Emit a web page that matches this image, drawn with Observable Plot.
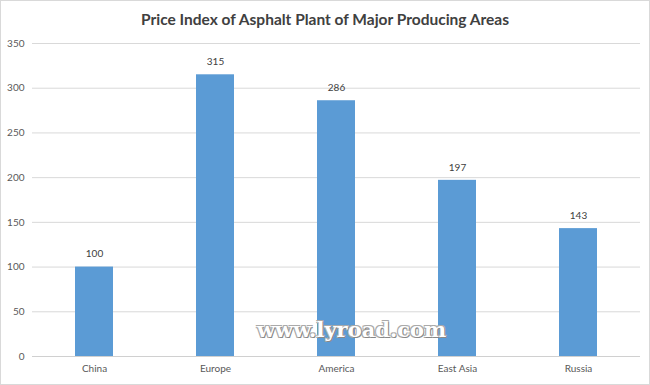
<!DOCTYPE html>
<html>
<head>
<meta charset="utf-8">
<script src="https://cdn.jsdelivr.net/npm/d3@7"></script>
<script src="https://cdn.jsdelivr.net/npm/@observablehq/plot@0.6"></script>
<style>
  html, body { margin: 0; padding: 0; background: #fff; }
  #wrap { position: relative; width: 648px; height: 383px; border: 1px solid #d9d9d9; overflow: hidden; font-family: Lato, "Open Sans", sans-serif; }
  #title { height: 34px; line-height: 36px; text-align: center; font-size: 15.5px; font-weight: bold; color: #404040; }
  #wm { position: absolute; left: 256px; top: 316px; font-family: "DejaVu Serif", serif; font-weight: bold; font-size: 21px; color: #fff; letter-spacing: 0px;
        text-shadow: 1px 1px 0 #888, -1px -1px 0 #aaa, 1px -1px 0 #aaa, -1px 1px 0 #aaa; }
</style>
</head>
<body>
<div id="wrap">
  <div id="title">Price Index of Asphalt Plant of Major Producing Areas</div>
  <div id="chart"></div>
  <div id="wm">www.lyroad.com</div>
</div>
<script>
const regions = ["China", "Europe", "America", "East Asia", "Russia"];
const values = [100, 315, 286, 197, 143];
const yTicks = [0, 50, 100, 150, 200, 250, 300, 350];

const data = regions.map((r, i) => ({region: r, value: values[i]}));

const chart = Plot.plot({
  width: 648,
  height: 348,
  marginTop: 8,
  marginBottom: 27,
  marginLeft: 31,
  marginRight: 9,
  style: {fontFamily: "Lato, 'Open Sans', sans-serif", fontSize: "10px", color: "#595959", background: "#fff"},
  x: {domain: regions, paddingInner: 0.69, paddingOuter: 0.345, label: null, tickSize: 0, tickPadding: 8},
  y: {domain: [0, 350], ticks: yTicks, label: null, tickSize: 0, tickPadding: 8},
  marks: [
    Plot.gridY(yTicks, {stroke: "#d9d9d9", strokeOpacity: 1}),
    Plot.barY(data, {x: "region", y: "value", fill: "#5b9bd5"}),
    Plot.ruleY([0], {stroke: "#d0d0d0"}),
    Plot.text(data, {x: "region", y: "value", text: d => String(d.value), dy: -13, fill: "#404040", fontSize: 10})
  ]
});
document.getElementById("chart").appendChild(chart);
</script>
</body>
</html>
